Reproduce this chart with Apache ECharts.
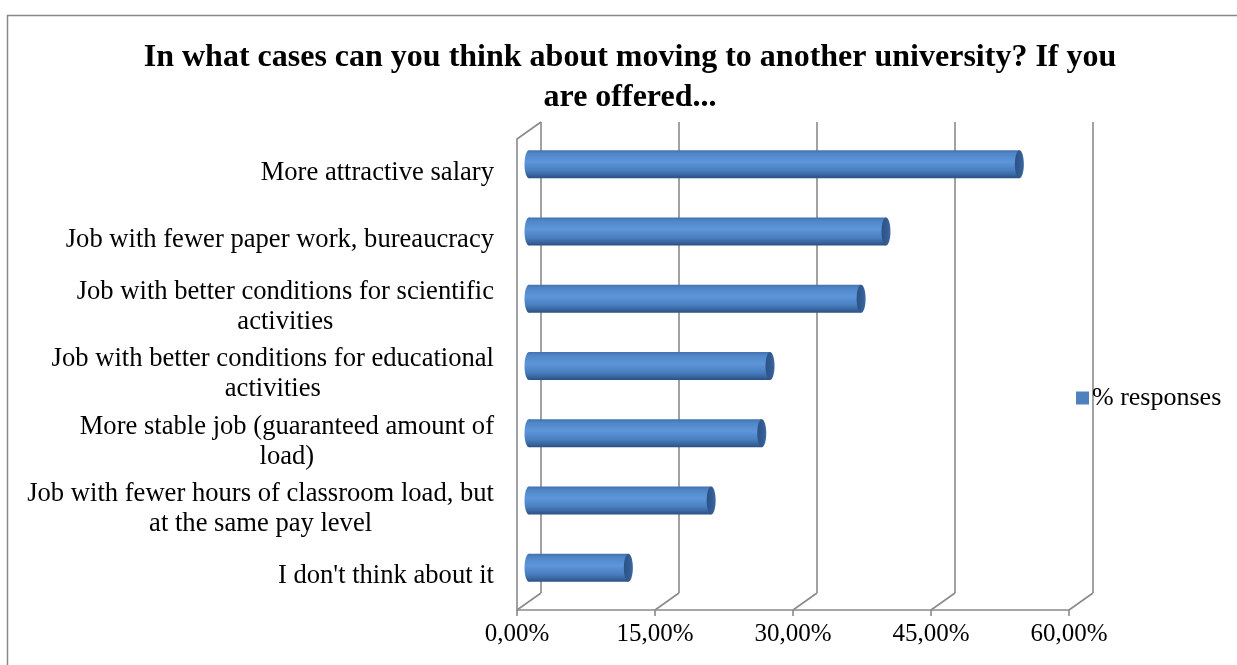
<!DOCTYPE html>
<html>
<head>
<meta charset="utf-8">
<script src="https://cdn.jsdelivr.net/npm/echarts@6/dist/echarts.min.js"></script>
<style>
html,body{margin:0;padding:0;background:#fff;}
#chart{width:1237px;height:665px;}
</style>
</head>
<body>
<div id="chart"></div>
<script>
const categories = [
  'More attractive salary',
  'Job with fewer paper work, bureaucracy',
  'Job with better conditions for scientific\nactivities',
  'Job with better conditions for educational\nactivities',
  'More stable job (guaranteed amount of\nload)',
  'Job with fewer hours of classroom load, but\nat the same pay level',
  "I don't think about it"
];
const responses = [53.3, 38.8, 36.1, 26.2, 25.3, 19.8, 10.8];
const xTicks = [0, 15, 30, 45, 60];
const seriesName = '% responses';
const titleText = 'In what cases can you think about moving to another university? If you\nare offered...';

const FONT = "'Liberation Serif', 'Times New Roman', serif";
const DX = 24, DY = 17;       // depth offset of the back wall
const BAR_H = 28;
const GRID_COLOR = '#8a8a8a';

const chart = echarts.init(document.getElementById('chart'));

function wallItem(params, api) {
  const v = api.value(0);
  const cs = params.coordSys;
  const bottom = cs.y + cs.height;
  const p = api.coord([v, 0]);
  const x = p[0];
  const children = [
    { type: 'line', shape: { x1: x, y1: bottom, x2: x + DX, y2: bottom - DY },
      style: { stroke: GRID_COLOR, lineWidth: 1.6 } },
    { type: 'line', shape: { x1: x + DX, y1: bottom - DY, x2: x + DX, y2: cs.y - DY },
      style: { stroke: GRID_COLOR, lineWidth: 1.6 } }
  ];
  if (v === xTicks[0]) {
    children.push({ type: 'line', shape: { x1: x, y1: cs.y, x2: x + DX, y2: cs.y - DY },
      style: { stroke: GRID_COLOR, lineWidth: 1.6 } });
  }
  return { type: 'group', children: children };
}

function barItem(params, api) {
  const idx = api.value(1);
  const val = api.value(0);
  const p0 = api.coord([0, idx]);
  const p1 = api.coord([val, idx]);
  const x0 = p0[0] + DX / 2;
  const x1 = p1[0] + DX / 2;
  const cy = p0[1] - DY / 2;
  const top = cy - BAR_H / 2;
  const grad = new echarts.graphic.LinearGradient(0, 0, 0, 1, [
    { offset: 0, color: '#4371ad' },
    { offset: 0.12, color: '#4f86c8' },
    { offset: 0.42, color: '#5d96da' },
    { offset: 0.72, color: '#4a7fc0' },
    { offset: 0.9, color: '#36639c' },
    { offset: 1, color: '#2a4f80' }
  ]);
  const capGrad = new echarts.graphic.LinearGradient(0, 0, 1, 0, [
    { offset: 0, color: '#2c5286' },
    { offset: 0.7, color: '#345e95' },
    { offset: 1, color: '#3f6ca6' }
  ]);
  return {
    type: 'group',
    children: [
      { type: 'ellipse', shape: { cx: x0, cy: cy, rx: 4.5, ry: BAR_H / 2 }, style: { fill: grad } },
      { type: 'rect', shape: { x: x0, y: top, width: Math.max(0, x1 - x0), height: BAR_H }, style: { fill: grad } },
      { type: 'ellipse', shape: { cx: x1, cy: cy, rx: 4.5, ry: BAR_H / 2 }, style: { fill: capGrad } }
    ]
  };
}

const option = {
  backgroundColor: '#fff',
  animation: false,
  title: {
    text: titleText,
    left: 625,
    top: 33,
    textAlign: 'center',
    textStyle: { fontFamily: FONT, fontSize: 32, fontWeight: 'bold', color: '#000', lineHeight: 40 }
  },
  graphic: [{
    type: 'rect', left: 5, top: 13, silent: true,
    shape: { width: 1300, height: 700 },
    style: { fill: 'none', stroke: '#888', lineWidth: 1.5 }
  }],
  legend: {
    left: 1071, top: 380,
    itemWidth: 13, itemHeight: 13, itemGap: 5,
    icon: 'rect',
    textStyle: { fontFamily: FONT, fontSize: 26, color: '#000', padding: [0, 0, 0, -2] },
    data: [seriesName]
  },
  grid: { left: 517, right: 168, top: 139, bottom: 55, containLabel: false },
  xAxis: {
    type: 'value', min: 0, max: 60, interval: 15,
    axisLine: { show: true, lineStyle: { color: GRID_COLOR, width: 1.6 } },
    axisTick: { show: true, length: 6, lineStyle: { color: GRID_COLOR, width: 1.6 } },
    splitLine: { show: false },
    axisLabel: {
      margin: 12,
      fontFamily: FONT, fontSize: 25, color: '#000',
      formatter: v => v.toFixed(2).replace('.', ',') + '%'
    }
  },
  yAxis: {
    type: 'category', inverse: true, data: categories,
    axisLine: { show: true, lineStyle: { color: GRID_COLOR, width: 1.6 } },
    axisTick: { show: false },
    splitLine: { show: false },
    axisLabel: {
      margin: 23,
      align: 'right',
      fontFamily: FONT, fontSize: 26.6, color: '#000', lineHeight: 30,
      formatter: v => v.split('\n').map(s => '{c|' + s + '}').join('\n'),
      rich: { c: { align: 'center', fontFamily: FONT, fontSize: 26.6, color: '#000', lineHeight: 30 } }
    }
  },
  series: [
    {
      type: 'custom', name: 'walls', silent: true, z: 1,
      renderItem: wallItem,
      data: xTicks.map(v => [v]),
      encode: { x: 0 }
    },
    {
      type: 'custom', name: seriesName, z: 5,
      itemStyle: { color: '#4f81bd' },
      renderItem: barItem,
      data: responses.map((v, i) => [v, i]),
      encode: { x: 0, y: 1 }
    }
  ]
};
chart.setOption(option);
</script>
</body>
</html>
